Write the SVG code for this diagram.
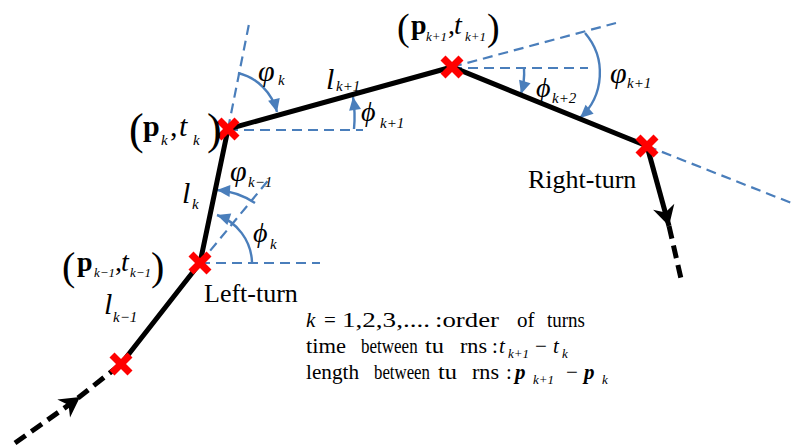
<svg xmlns="http://www.w3.org/2000/svg" width="794" height="448" viewBox="0 0 794 448">
<defs>
<style>
.trk{fill:none;stroke:#000;stroke-width:5}
.trkd{fill:none;stroke:#000;stroke-width:5;stroke-dasharray:13 7}
.ref{fill:none;stroke:#4A7EBB;stroke-width:2.2;stroke-dasharray:10 6}
.ang{fill:none;stroke:#4A7EBB;stroke-width:2.4}
.x{stroke:#FF0000;stroke-width:7;stroke-linecap:butt}
.m{font-family:"Liberation Serif","Times New Roman",serif;fill:#000}
.i{font-style:italic}
.b{font-weight:bold}
.s{font-size:15px;font-style:italic}
.t{font-size:13px;font-style:italic}
.g{font-family:"Liberation Serif","DejaVu Serif",serif;font-style:italic}
.lg{font-size:21px}
</style>
<marker id="ba" viewBox="-14 -7 15 14" refX="0" refY="0" markerWidth="15" markerHeight="14" markerUnits="userSpaceOnUse" orient="auto">
<path d="M0,0 L-13,-6 L-13,6 Z" fill="#4A7EBB"/>
</marker>
<marker id="ka" viewBox="-22 -12 24 24" refX="0" refY="0" markerWidth="24" markerHeight="24" markerUnits="userSpaceOnUse" orient="auto">
<path d="M0,0 L-20,-11 L-14,0 L-20,11 Z" fill="#000"/>
</marker>
</defs>
<rect width="794" height="448" fill="#fff"/>

<g id="connectors">
<line class="ref" x1="228" y1="129" x2="249" y2="24"/>
<line class="ref" x1="228" y1="130" x2="363" y2="130"/>
<line class="ref" x1="452" y1="68" x2="588" y2="68"/>
<line class="ref" x1="452" y1="67" x2="616" y2="23"/>
<line class="ref" x1="647" y1="146" x2="794" y2="204"/>
<line class="ref" x1="200" y1="263" x2="320" y2="263"/>
<line class="ref" x1="200" y1="263" x2="271" y2="177"/>
<path class="ang" d="M238,73 A53,53 0 0 1 277,112" marker-end="url(#ba)"/>
<path class="ang" d="M354,129 A126,126 0 0 0 353,97" marker-end="url(#ba)"/>
<path class="ang" d="M524,68 A72,72 0 0 1 521,94" marker-end="url(#ba)"/>
<path class="ang" d="M585,33 A61,61 0 0 1 580,118" marker-end="url(#ba)"/>
<path class="ang" d="M255,203 A79,79 0 0 0 217,190" marker-end="url(#ba)"/>
<path class="ang" d="M252,262 A52,52 0 0 0 217,215" marker-end="url(#ba)"/>
<line class="trkd" x1="15" y1="443" x2="80" y2="397" marker-end="url(#ka)"/>
<line class="trkd" x1="78" y1="398" x2="121" y2="364"/>
<polyline class="trk" points="121,364 200,263 228,129 452,67 647,146"/>
<line class="trk" x1="647" y1="146" x2="669" y2="226" marker-end="url(#ka)"/>
<line class="trkd" x1="669" y1="226" x2="682" y2="283"/>
</g>

<g id="turn-k-2">
<line class="x" x1="112" y1="355" x2="130" y2="373"/><line class="x" x1="130" y1="355" x2="112" y2="373"/>
</g>

<g id="turn-k-1">
<line class="x" x1="191" y1="254" x2="209" y2="272"/><line class="x" x1="209" y1="254" x2="191" y2="272"/>
<text class="m" x="62" y="280" font-size="40">(</text>
<text class="m b" x="77" y="271" font-size="28">p</text>
<text class="m t" x="94" y="277">k−1</text>
<text class="m" x="115" y="271" font-size="28">,</text>
<text class="m i" x="121" y="271" font-size="28">t</text>
<text class="m t" x="130" y="277">k−1</text>
<text class="m" x="151" y="280" font-size="40">)</text>
<text class="m" x="204" y="302" font-size="26">Left-turn</text>
</g>

<g id="turn-k">
<line class="x" x1="219" y1="120" x2="237" y2="138"/><line class="x" x1="237" y1="120" x2="219" y2="138"/>
<text class="m" x="129" y="144" font-size="44">(</text>
<text class="m b" x="143" y="136" font-size="30">p</text>
<text class="m s" x="161" y="145">k</text>
<text class="m" x="170" y="136" font-size="30">,</text>
<text class="m i" x="179" y="136" font-size="30">t</text>
<text class="m s" x="193" y="145">k</text>
<text class="m" x="207" y="144" font-size="44">)</text>
</g>

<g id="turn-k+1">
<line class="x" x1="443" y1="58" x2="461" y2="76"/><line class="x" x1="461" y1="58" x2="443" y2="76"/>
<text class="m" x="397" y="40" font-size="38">(</text>
<text class="m b" x="411" y="34" font-size="28">p</text>
<text class="m t" x="426" y="41">k+1</text>
<text class="m" x="448" y="34" font-size="28">,</text>
<text class="m i" x="454" y="34" font-size="28">t</text>
<text class="m t" x="465" y="41">k+1</text>
<text class="m" x="487" y="40" font-size="38">)</text>
</g>

<g id="turn-k+2">
<line class="x" x1="638" y1="137" x2="656" y2="155"/><line class="x" x1="656" y1="137" x2="638" y2="155"/>
<text class="m" x="528" y="188" font-size="26">Right-turn</text>
</g>

<g id="labels">
<text class="m i" x="326" y="89" font-size="30">l</text>
<text class="m s" x="336" y="91">k+1</text>
<text class="m i" x="182" y="203" font-size="30">l</text>
<text class="m s" x="192" y="209">k</text>
<text class="m i" x="104" y="314" font-size="30">l</text>
<text class="m s" x="113" y="322">k−1</text>
<text class="g" x="258" y="81" font-size="30">φ</text>
<text class="m s" x="278" y="85">k</text>
<text class="g" x="361" y="121" font-size="28">ϕ</text>
<text class="m s" x="380" y="128">k+1</text>
<text class="g" x="536" y="97" font-size="28">ϕ</text>
<text class="m s" x="552" y="103">k+2</text>
<text class="g" x="610" y="83" font-size="30">φ</text>
<text class="m s" x="627" y="88">k+1</text>
<text class="g" x="230" y="181" font-size="30">φ</text>
<text class="m s" x="248" y="187">k−1</text>
<text class="g" x="253" y="242" font-size="28">ϕ</text>
<text class="m s" x="270" y="249">k</text>
</g>

<g id="legend" class="m lg">
<text class="i" x="306" y="327">k</text>
<text x="324" y="327">=</text>
<text x="342" y="327" textLength="88" lengthAdjust="spacingAndGlyphs">1,2,3,....</text>
<text x="435" y="327" textLength="64" lengthAdjust="spacingAndGlyphs">:order</text>
<text x="517" y="327">of</text>
<text x="547" y="327" textLength="38" lengthAdjust="spacingAndGlyphs">turns</text>

<text x="306" y="353" textLength="40" lengthAdjust="spacingAndGlyphs">time</text>
<text transform="translate(361,353) scale(0.81,1)" x="0" y="0">between</text>
<text x="425" y="353" textLength="19" lengthAdjust="spacingAndGlyphs">tu</text>
<text x="460" y="353" textLength="27" lengthAdjust="spacingAndGlyphs">rns</text>
<text x="492" y="353">:</text>
<text class="i" x="499" y="353">t</text>
<text class="t" x="508" y="358">k+1</text>
<text x="535" y="353">−</text>
<text class="i" x="553" y="353">t</text>
<text class="t" x="562" y="358">k</text>

<text x="306" y="379" textLength="53" lengthAdjust="spacingAndGlyphs">length</text>
<text transform="translate(374,379) scale(0.8,1)" x="0" y="0">between</text>
<text x="438" y="379" textLength="19" lengthAdjust="spacingAndGlyphs">tu</text>
<text x="472" y="379" textLength="27" lengthAdjust="spacingAndGlyphs">rns</text>
<text x="506" y="379">:</text>
<text class="i b" x="515" y="379">p</text>
<text class="t" x="533" y="384">k+1</text>
<text x="566" y="379">−</text>
<text class="i b" x="584" y="379">p</text>
<text class="t" x="602" y="384">k</text>
</g>
</svg>
